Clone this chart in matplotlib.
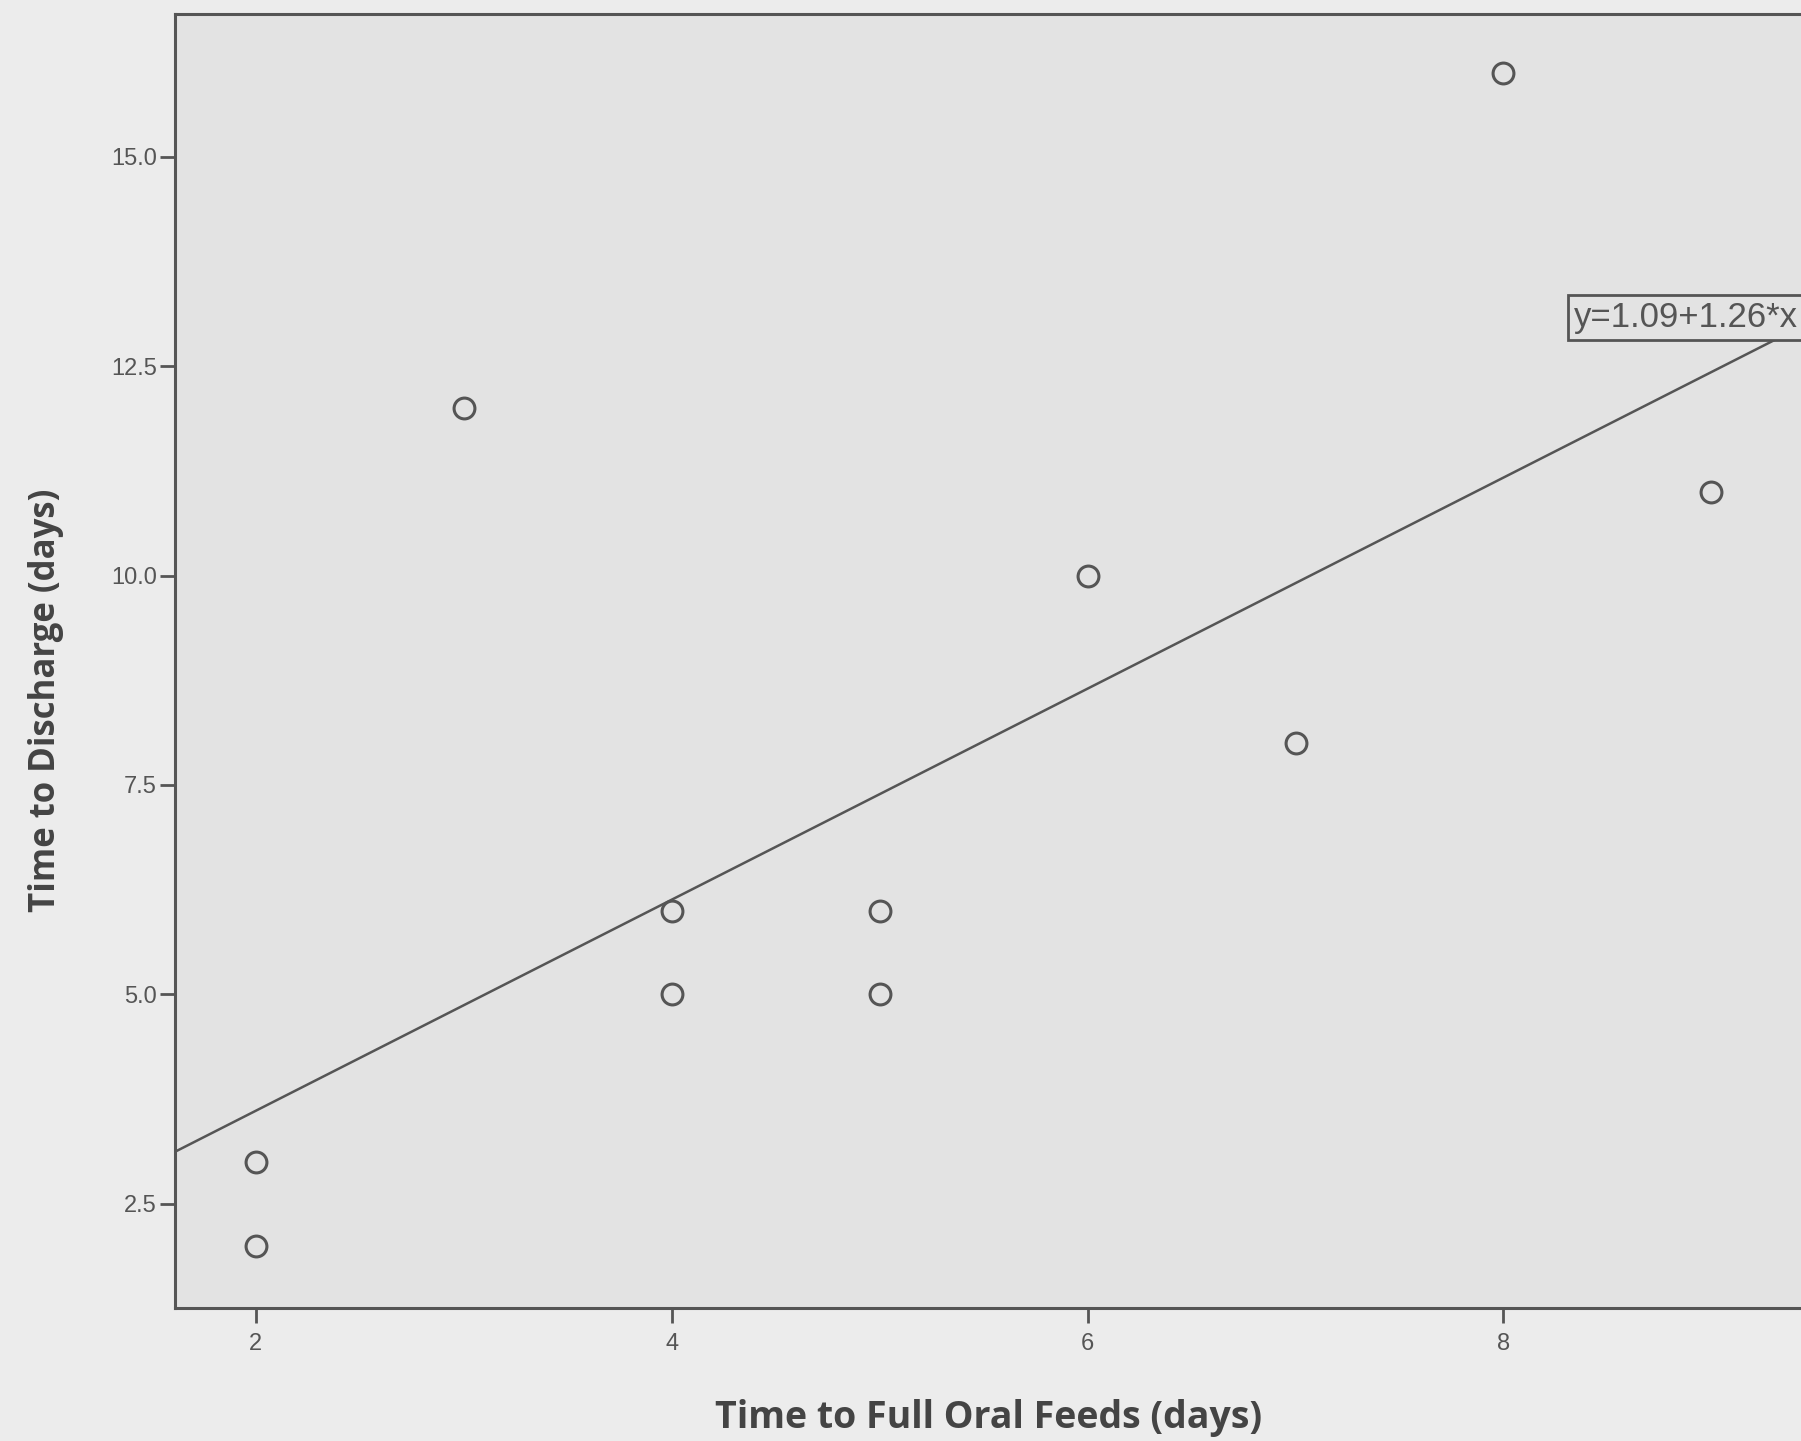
import matplotlib
matplotlib.use("Agg")
import matplotlib.pyplot as plt
import numpy as np

# days to full oral feeds vs days to discharge
feeds_days = [2, 2, 3, 4, 4, 5, 5, 6, 7, 8, 9]
discharge_days = [2, 3, 12, 5, 6, 5, 6, 10, 8, 16, 11]

# fitted line coefficients
intercept = 1.09
slope = 1.26

x_ticks = [2, 4, 6, 8]
y_ticks = [2.5, 5.0, 7.5, 10.0, 12.5, 15.0]

ink = "#555555"
plt.rcParams['font.family'] = ['Liberation Sans', 'DejaVu Sans']

fig = plt.figure(figsize=(18.01, 14.41), dpi=100, facecolor="#ececec")
ax = fig.add_axes([0.097, 0.092, 0.911, 0.898], facecolor="#e3e3e3")

xlim = (1.61, 9.5)
ax.set_xlim(*xlim)
ax.set_ylim(1.25, 16.7)

xs = np.array(xlim)
ax.plot(xs, intercept + slope * xs, color=ink, lw=1.8, zorder=2)

ax.plot(feeds_days, discharge_days, linestyle="none", marker="o",
        markersize=15, markerfacecolor="none", markeredgecolor=ink,
        markeredgewidth=2.2, zorder=3)

ax.text(8.34, 13.08, "y=%.2f+%.2f*x" % (intercept, slope), fontsize=25,
        color=ink, va="center", ha="left", clip_on=False,
        bbox=dict(boxstyle="square,pad=0.18", facecolor="#e3e3e3",
                  edgecolor=ink, linewidth=2))

ax.set_xticks(x_ticks)
ax.set_xticklabels([str(v) for v in x_ticks])
ax.set_yticks(y_ticks)
ax.set_yticklabels(["%.1f" % v for v in y_ticks])
ax.tick_params(axis="both", direction="out", length=11, width=2, colors=ink,
               labelsize=17, labelcolor=ink)
ax.tick_params(axis="y", pad=2)
ax.tick_params(axis="x", pad=7)

for side in ax.spines.values():
    side.set_color(ink)
    side.set_linewidth(2.2)

ax.set_xlabel("Time to Full Oral Feeds (days)", fontsize=27,
              fontweight="bold", family=["Open Sans", "DejaVu Sans"],
              color="#444444", va="center")
ax.xaxis.set_label_coords(0.496, -0.085)
ax.set_ylabel("Time to Discharge (days)", fontsize=25, fontweight="bold",
              family=["Open Sans", "DejaVu Sans"], color="#444444",
              va="center")
ax.yaxis.set_label_coords(-0.0786, 0.47)

fig.savefig("out.png", dpi=100, facecolor=fig.get_facecolor())
